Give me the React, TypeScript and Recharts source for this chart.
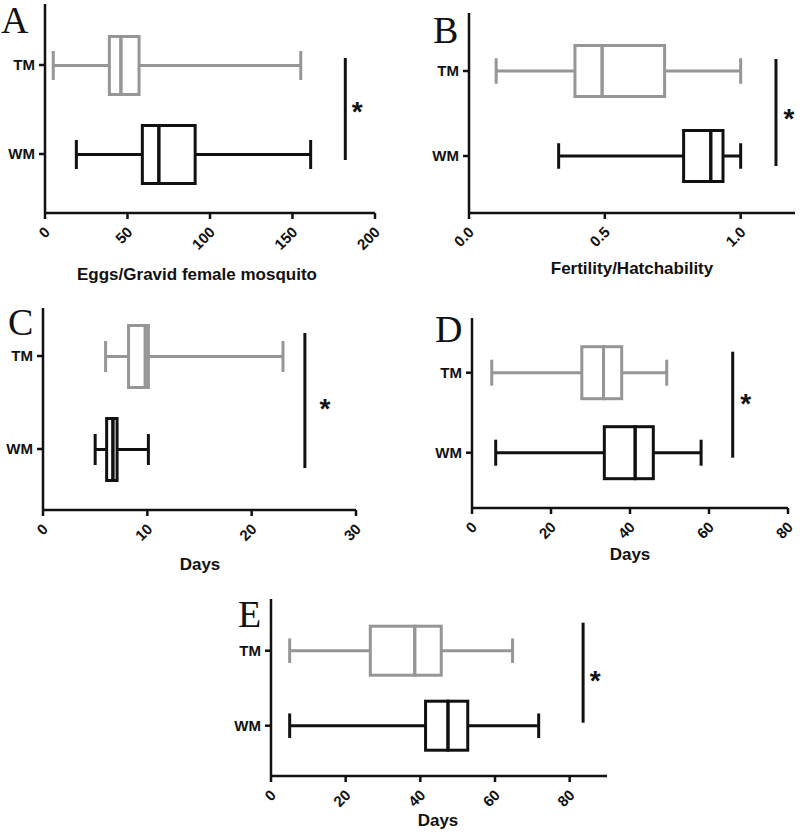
import React from 'react';
import { ComposedChart, Bar, XAxis, YAxis, ReferenceLine } from 'recharts';

const groups = ['TM', 'WM'];

// five-number summaries per group: min, Q1, median, Q3, max
const eggsTM = [5, 39, 46, 57, 155];
const eggsWM = [19, 59, 69, 91, 161];
const hatchTM = [0.1, 0.39, 0.49, 0.72, 1.0];
const hatchWM = [0.33, 0.79, 0.89, 0.935, 1.0];
const daysCTM = [6, 8.2, 9.8, 10.1, 23];
const daysCWM = [5, 6.1, 6.7, 7.1, 10.1];
const daysDTM = [5, 27.8, 33.3, 37.9, 49.3];
const daysDWM = [6, 33.5, 41.3, 45.9, 58];
const daysETM = [5, 26.6, 38.5, 45.6, 64.7];
const daysEWM = [5, 41.4, 47.4, 52.7, 71.7];

const ticksA = [0, 50, 100, 150, 200];
const ticksB = [0, 0.5, 1.0];
const ticksC = [0, 10, 20, 30];
const ticksD = [0, 20, 40, 60, 80];
const ticksE = [0, 20, 40, 60, 80];

// x position of the significance bar in each panel
const sigX = [182, 1.13, 25.1, 66, 83.6];
const titles = ['Eggs/Gravid female mosquito', 'Fertility/Hatchability', 'Days', 'Days', 'Days'];
const letters = ['A', 'B', 'C', 'D', 'E'];

const colors: Record<string, string> = { TM: '#969696', WM: '#111111' };
const SANS = '"Liberation Sans", Arial, sans-serif';
const SERIF = '"Liberation Serif", "Times New Roman", serif';

const toRows = (tm: number[], wm: number[]) =>
    [tm, wm].map((v, i) => ({
        name: groups[i],
        base: v[0],
        lowWhisker: v[1] - v[0],
        lowBox: v[2] - v[1],
        highBox: v[3] - v[2],
        highWhisker: v[4] - v[3],
    }));

const boxPart = (part: string) => (props: any) => {
    const { x, y, width, height, payload } = props;
    const c = colors[payload.name];
    const mid = y + height / 2;
    const cap = height / 4;
    const sw = 3;
    if (part === 'lowWhisker') {
        return (
            <g>
                <line x1={x} x2={x + width} y1={mid} y2={mid} stroke={c} strokeWidth={sw} />
                <line x1={x} x2={x} y1={mid - cap} y2={mid + cap} stroke={c} strokeWidth={sw} />
            </g>
        );
    }
    if (part === 'highWhisker') {
        return (
            <g>
                <line x1={x} x2={x + width} y1={mid} y2={mid} stroke={c} strokeWidth={sw} />
                <line x1={x + width} x2={x + width} y1={mid - cap} y2={mid + cap} stroke={c} strokeWidth={sw} />
            </g>
        );
    }
    return <rect x={x} y={y} width={width} height={height} fill="none" stroke={c} strokeWidth={sw} />;
};

const sigShape = (ext: number[], star: number[]) => (props: any) => {
    const { x1, y1, y2 } = props;
    const top = Math.min(y1, y2) - ext[0];
    const bottom = Math.max(y1, y2) + ext[1];
    const cy = (top + bottom) / 2 + star[1];
    return (
        <g>
            <line x1={x1} x2={x1} y1={top} y2={bottom} stroke="#111" strokeWidth={3} />
            <text x={x1 + star[0]} y={cy + 15} textAnchor="middle" fontFamily={SANS} fontWeight="bold" fontSize={28} fill="#111">
                *
            </text>
        </g>
    );
};

const XTick = (fmt: (v: number) => string) => (props: any) => {
    const { x, y, payload } = props;
    return (
        <g transform={`translate(${x},${y})`}>
            <text x={6} y={12} textAnchor="end" transform="rotate(-45 6 12)" fontFamily={SANS} fontWeight="bold" fontSize={15} fill="#111">
                {fmt(payload.value)}
            </text>
        </g>
    );
};

const panels = [
    { tm: eggsTM, wm: eggsWM, domain: [0, 200], ticks: ticksA, fmt: (v: number) => String(v),
      box: { left: 0, top: 0, width: 400, height: 260 }, margin: { top: 4, right: 25, bottom: 7, left: 5 },
      pad: { top: 16.5, bottom: 14.5 }, barSize: 58, ext: [7, 6], star: [12, -3] },
    { tm: hatchTM, wm: hatchWM, domain: [0, 1.2], ticks: ticksB, fmt: (v: number) => v.toFixed(1),
      box: { left: 400, top: 0, width: 400, height: 260 }, margin: { top: 13, right: 5, bottom: 7, left: 29 },
      pad: { top: 15.5, bottom: 14.5 }, barSize: 51, ext: [12, 10], star: [13, 0] },
    { tm: daysCTM, wm: daysCWM, domain: [0, 30], ticks: ticksC, fmt: (v: number) => String(v),
      box: { left: 0, top: 300, width: 400, height: 260 }, margin: { top: 8, right: 44, bottom: 10, left: 3 },
      pad: { top: 1.5, bottom: 14.5 }, barSize: 62, ext: [23, 19], star: [20, 2] },
    { tm: daysDTM, wm: daysDWM, domain: [0, 80], ticks: ticksD, fmt: (v: number) => String(v),
      box: { left: 400, top: 300, width: 400, height: 260 }, margin: { top: 18, right: 12, bottom: 12, left: 32 },
      pad: { top: 14.7, bottom: 15.3 }, barSize: 52, ext: [21, 5], star: [13, -7] },
    { tm: daysETM, wm: daysEWM, domain: [0, 90], ticks: ticksE, fmt: (v: number) => String(v),
      box: { left: 200, top: 580, width: 420, height: 240 }, margin: { top: 19, right: 13, bottom: 4, left: 31 },
      pad: { top: 14.2, bottom: 12.8 }, barSize: 49, ext: [28, -3], star: [12, 2] },
];

// letter positions (baseline) and axis title centres (baseline)
const letterPos = [[1, 33], [433, 43], [8, 335], [435, 342], [238, 627]];
const titlePos = [[197, 280], [632, 274], [200, 570], [630, 560], [438, 826]];

const axisProps = { stroke: '#111', strokeWidth: 2.5 };

export default function App() {
    return (
        <div style={{ position: 'absolute', left: 0, top: 0, width: 800, height: 833, background: '#fff' }}>
            {panels.map((p, i) => (
                <div key={i} style={{ position: 'absolute', left: p.box.left, top: p.box.top }}>
                    <ComposedChart layout="vertical" width={p.box.width} height={p.box.height} data={toRows(p.tm, p.wm)} margin={p.margin}>
                        <XAxis
                            type="number"
                            domain={p.domain}
                            ticks={p.ticks}
                            allowDataOverflow
                            height={40}
                            axisLine={axisProps}
                            tickLine={axisProps}
                            tickSize={6}
                            tick={XTick(p.fmt)}
                            interval={0}
                        />
                        <YAxis
                            type="category"
                            dataKey="name"
                            width={40}
                            padding={p.pad}
                            axisLine={axisProps}
                            tickLine={axisProps}
                            tickSize={6}
                            tickMargin={4}
                            tick={{ fill: '#111', fontSize: 15, fontWeight: 'bold', fontFamily: SANS }}
                        />
                        <Bar dataKey="base" stackId="b" barSize={p.barSize} shape={() => null} isAnimationActive={false} />
                        <Bar dataKey="lowWhisker" stackId="b" barSize={p.barSize} shape={boxPart('lowWhisker')} isAnimationActive={false} />
                        <Bar dataKey="lowBox" stackId="b" barSize={p.barSize} shape={boxPart('lowBox')} isAnimationActive={false} />
                        <Bar dataKey="highBox" stackId="b" barSize={p.barSize} shape={boxPart('highBox')} isAnimationActive={false} />
                        <Bar dataKey="highWhisker" stackId="b" barSize={p.barSize} shape={boxPart('highWhisker')} isAnimationActive={false} />
                        <ReferenceLine
                            segment={[{ x: sigX[i], y: 'TM' }, { x: sigX[i], y: 'WM' }]}
                            shape={sigShape(p.ext, p.star)}
                        />
                    </ComposedChart>
                </div>
            ))}
            <svg width={800} height={833} style={{ position: 'absolute', left: 0, top: 0, pointerEvents: 'none' }}>
                {letters.map((l, i) => (
                    <text key={l} x={letterPos[i][0]} y={letterPos[i][1]} fontFamily={SERIF} fontSize={38} fill="#111">
                        {l}
                    </text>
                ))}
                {titles.map((t, i) => (
                    <text key={i} x={titlePos[i][0]} y={titlePos[i][1]} textAnchor="middle" fontFamily={SANS} fontWeight="bold" fontSize={17} fill="#111">
                        {t}
                    </text>
                ))}
            </svg>
        </div>
    );
}
